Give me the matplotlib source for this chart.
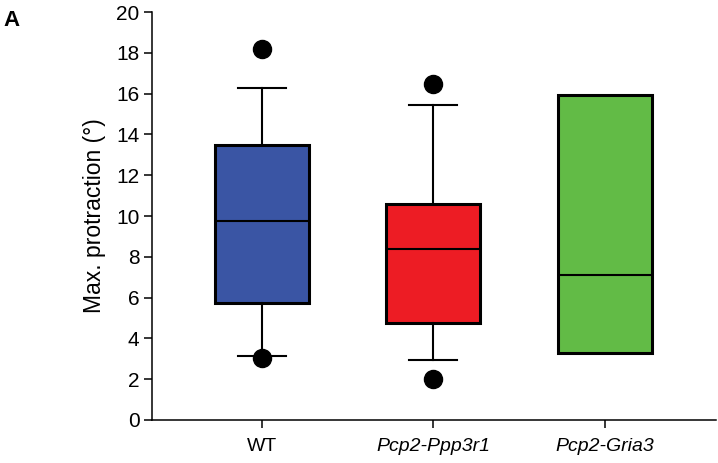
import matplotlib
matplotlib.use("Agg")
import matplotlib.pyplot as plt

plt.rcParams.update({
    "font.family": ["Liberation Sans", "DejaVu Sans"],
    "font.size": 14,
})

# --- Data ---
groups = ["WT", "Pcp2-Ppp3r1", "Pcp2-Gria3"]
q1 = [5.73, 4.75, 3.28]
med = [9.75, 8.4, 7.1]
q3 = [13.48, 10.6, 15.95]
whislo = [3.14, 2.94, 3.28]
whishi = [16.27, 15.44, 15.95]
fliers = [[18.2, 3.04], [16.47, 2.0], []]
colors = ["#3a55a4", "#ed1c24", "#62bb46"]

stats = []
for i, g in enumerate(groups):
    stats.append(dict(label=g, q1=q1[i], med=med[i], q3=q3[i],
                      whislo=whislo[i], whishi=whishi[i], fliers=fliers[i]))

fig = plt.figure(figsize=(7.18, 4.63), dpi=100)
ax = fig.add_axes([0.2117, 0.0929, 0.785, 0.881])

bp = ax.bxp(stats, positions=range(len(groups)), widths=0.55, patch_artist=True,
            showcaps=True,
            boxprops=dict(linewidth=2.2, edgecolor="black"),
            medianprops=dict(color="black", linewidth=1.5),
            whiskerprops=dict(color="black", linewidth=1.5),
            capprops=dict(color="black", linewidth=1.5),
            flierprops=dict(marker="o", markerfacecolor="black", markeredgecolor="black",
                            markersize=13))
for patch, c in zip(bp["boxes"], colors):
    patch.set_facecolor(c)
for cap in bp["caps"]:
    x0, x1 = cap.get_xdata()
    cx = (x0 + x1) / 2
    cap.set_xdata([cx - 0.14, cx + 0.14])
# Gria3 has no whisker range beyond box: hide its whiskers/caps
for k in (4, 5):
    bp["whiskers"][k].set_visible(False)
    bp["caps"][k].set_visible(False)

ax.set_xlim(-0.641, 2.647)
ax.set_ylim(0, 20)
ax.set_yticks(range(0, 21, 2))
ax.set_xticks(range(len(groups)))
ax.set_xticklabels(groups)
for lbl in ax.get_xticklabels()[1:]:
    lbl.set_fontstyle("italic")

for s in ("top", "right"):
    ax.spines[s].set_visible(False)
for s in ("left", "bottom"):
    ax.spines[s].set_linewidth(1.1)
ax.tick_params(width=1.1, length=6)
ax.tick_params(axis="x", pad=7, labelsize=14)
ax.tick_params(axis="y", pad=3, labelsize=15)
ax.set_ylabel("Max. protraction (°)", fontsize=16.5, labelpad=7)

fig.text(0.005, 0.978, "A", fontsize=16, fontweight="bold", va="top", ha="left")

plt.savefig("out.png", dpi=100)
